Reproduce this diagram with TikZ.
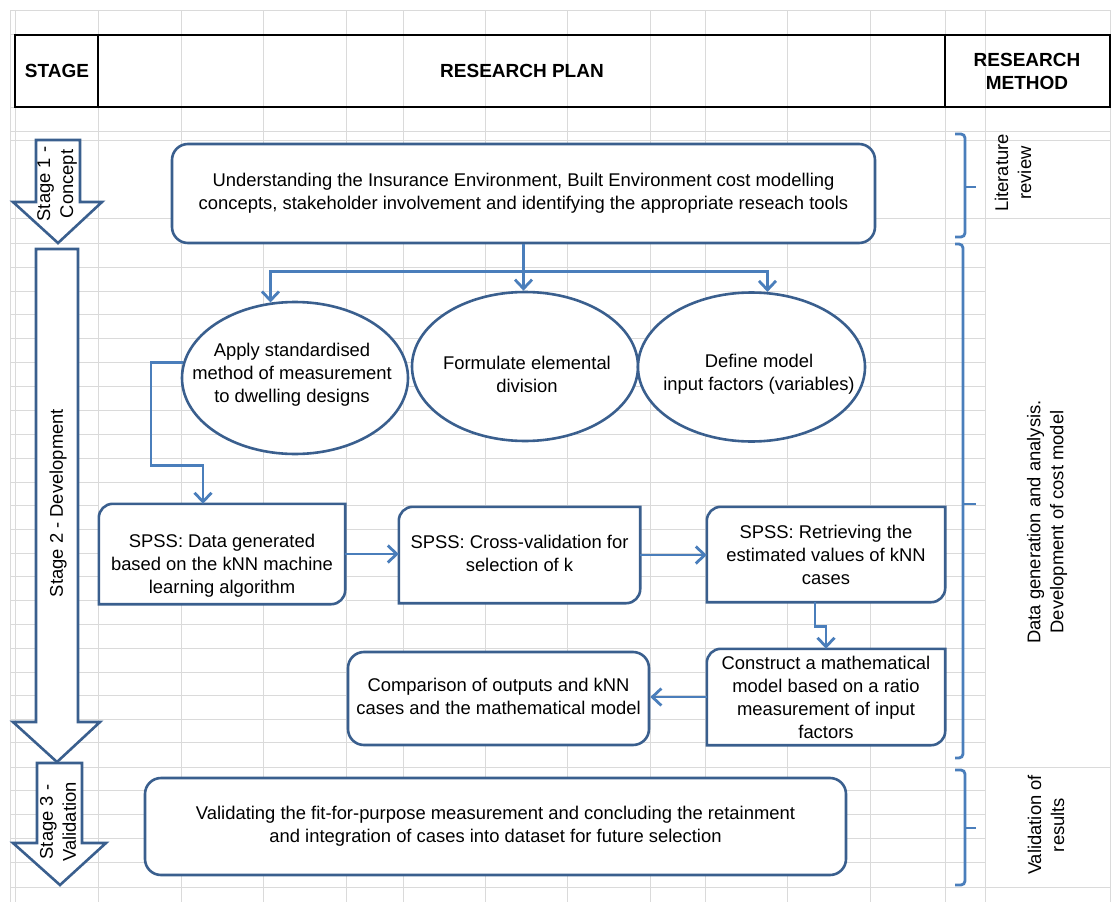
\documentclass[tikz,border=0pt]{standalone}
\usepackage{fontspec}
\setmainfont{Liberation Sans}
\usetikzlibrary{shapes.geometric,arrows.meta,calc}
\definecolor{gridgray}{HTML}{DADADA}
\definecolor{shapeblue}{HTML}{3A5F8E}
\definecolor{linkblue}{HTML}{4A7EBB}

\tikzset{
  txt/.style={font=\fontsize{18.4}{23}\selectfont, align=center, inner sep=0pt},
  hdr/.style={font=\bfseries\fontsize{19}{23}\selectfont, align=center, inner sep=0pt},
  roundbox/.style={txt, draw=shapeblue, line width=2.6pt, rounded corners=16pt, fill=white},
  diagbox/.style={txt, fill=white},
  oval/.style={ellipse, draw=shapeblue, line width=2.6pt, fill=white, inner sep=0pt},
  conn/.style={draw=linkblue, line width=2.8pt},
  arr/.style={conn, -{Straight Barb[length=9pt,width=17pt]}},
  brace/.style={draw=linkblue, line width=2.8pt, rounded corners=4pt},
  stagearrow/.style={draw=shapeblue, line width=2.6pt, fill=white, line join=miter},
  gridline/.style={draw=gridgray, line width=1pt},
  vtxt/.style={txt, rotate=90},
}

% frame with rounded top-left and bottom-right corners only
\newcommand\diagframe[1]{%
  \draw[draw=shapeblue, line width=2.6pt]
    (#1.south west) -- ([yshift=-14pt]#1.north west)
    arc[start angle=180, end angle=90, radius=14pt]
    -- (#1.north east) -- ([yshift=14pt]#1.south east)
    arc[start angle=0, end angle=-90, radius=14pt] -- cycle;}

\begin{document}
\begin{tikzpicture}[x=1pt, y=1pt]
\useasboundingbox (0,0) rectangle (1112,-902);

% spreadsheet grid
\foreach \gx in {10,15,98,181,263,346,403,485,567,650,705,787,870,945,985,1110}
  \draw[gridline] (\gx,-10) -- (\gx,-902);
\foreach \gy in {10,34,107,131,140,218,243,267,291,314,338,362,386,410,434,458,482,505,529,553,576,600,624,648,672,695,719,742,767,790,814,838,862,887}
  \draw[gridline] (10,-\gy) -- (985,-\gy);
\foreach \gy in {10,34,107,131,140,218,243,767,887}
  \draw[gridline] (985,-\gy) -- (1110,-\gy);

% header row
\draw[line width=2pt] (15,-35) rectangle (1110,-107);
\draw[line width=2pt] (98,-35) -- (98,-107);
\draw[line width=2pt] (945,-35) -- (945,-107);
\node[hdr] (stagehd) at (57,-71) {STAGE};
\node[hdr] (planhd) at (522,-71) {RESEARCH PLAN};
\node[hdr] (methodhd) at (1027,-71) {RESEARCH\\METHOD};

% stage arrows
\draw[stagearrow] (36,-140) -- (80,-140) -- (80,-202) -- (102,-202) -- (58,-243)
  -- (13,-202) -- (36,-202) -- cycle;
\draw[stagearrow] (36,-249) -- (78,-249) -- (78,-722) -- (100,-722) -- (57,-762)
  -- (13,-722) -- (36,-722) -- cycle;
\draw[stagearrow] (37,-763) -- (82,-763) -- (82,-843) -- (106,-843) -- (60,-885)
  -- (13,-843) -- (37,-843) -- cycle;
\node[vtxt] (st1) at (57,-184) {Stage 1 -\\Concept};
\node[vtxt] (st2) at (58,-503) {Stage 2 - Development};
\node[vtxt] (st3) at (58,-822) {Stage 3 -\\Validation};

% research plan
\node[roundbox, minimum width=703pt, minimum height=99pt] (concept) at (523.5,-193.5)
  {Understanding the Insurance Environment, Built Environment cost modelling\\
   concepts, stakeholder involvement and identifying the appropriate reseach tools};

\node[oval, minimum width=226pt, minimum height=152pt] (measure) at (295,-378) {};
\node[oval, minimum width=226pt, minimum height=149pt] (element) at (525,-366.5) {};
\node[oval, minimum width=227pt, minimum height=149pt] (inputs) at (751.5,-367) {};
\node[txt] (measuretxt) at (292,-375) {Apply standardised\\method of measurement\\to dwelling designs};
\node[txt] (elementtxt) at (527,-374.5) {Formulate elemental\\division};
\node[txt] (inputstxt) at (759,-374.5) {Define model\\input factors (variables)};

\node[diagbox, minimum width=246pt, minimum height=100pt] (data) at (222,-554) {};
\node[txt] (datatxt) at (222,-566) {SPSS: Data generated\\based on the kNN machine\\learning algorithm};
\node[diagbox, minimum width=241pt, minimum height=96pt] (cross) at (519.5,-555)
  {\raisebox{3pt}{\begin{tabular}{@{}c@{}}SPSS: Cross-validation for\\selection of k\end{tabular}}};
\node[diagbox, minimum width=238pt, minimum height=95pt] (retrieve) at (826,-554.5)
  {SPSS: Retrieving the\\estimated values of kNN\\cases};
\node[diagbox, minimum width=238pt, minimum height=96pt] (construct) at (826,-697)
  {Construct a mathematical\\model based on a ratio\\measurement of input\\factors};
\diagframe{data}
\diagframe{cross}
\diagframe{retrieve}
\diagframe{construct}
\node[roundbox, minimum width=301pt, minimum height=93pt] (compare) at (498.5,-698.5)
  {\raisebox{2pt}{\begin{tabular}{@{}c@{}}Comparison of outputs and kNN\\cases and the mathematical model\end{tabular}}};

\node[roundbox, minimum width=701pt, minimum height=97pt] (validate) at (495.5,-826.5)
  {Validating the fit-for-purpose measurement and concluding the retainment\\
   and integration of cases into dataset for future selection};

% connectors
\draw[conn] (concept.south) -- ++(0,-27) coordinate (split);
\draw[arr] (split) -| (measure.108);
\draw[arr] (split) -| (inputs.78);
\draw[arr] (split) -- (split |- element.north);
\draw[arr] (measure.172) -| ++(-32,-103) -| ([xshift=-19pt]data.north);
\draw[arr] (data.east) -- (data.east -| cross.west);
\draw[arr] (cross.east) -- (cross.east -| retrieve.west);
\draw[arr] ([xshift=-11pt]retrieve.south) -- ++(0,-24) -| (construct.north);
\draw[arr] (construct.west) -- (construct.west -| compare.east);

% research method braces
\draw[brace] (955,-134) -- (965,-134) -- (965,-237) -- (955,-237);
\draw[brace] (965,-187) -- (976,-187);
\draw[brace] (955,-244) -- (963,-244) -- (963,-758) -- (955,-758);
\draw[brace] (963,-504) -- (976,-504);
\draw[brace] (955,-770) -- (965,-770) -- (965,-885) -- (955,-885);
\draw[brace] (965,-828) -- (976,-828);

\node[vtxt] (litrev) at (1013,-173) {Literature\\review};
\node[vtxt] (datagen) at (1047,-522) {Data generation and analysis.\\Development of cost model};
\node[vtxt] (valres) at (1046,-825) {Validation of\\results};
\end{tikzpicture}
\end{document}
